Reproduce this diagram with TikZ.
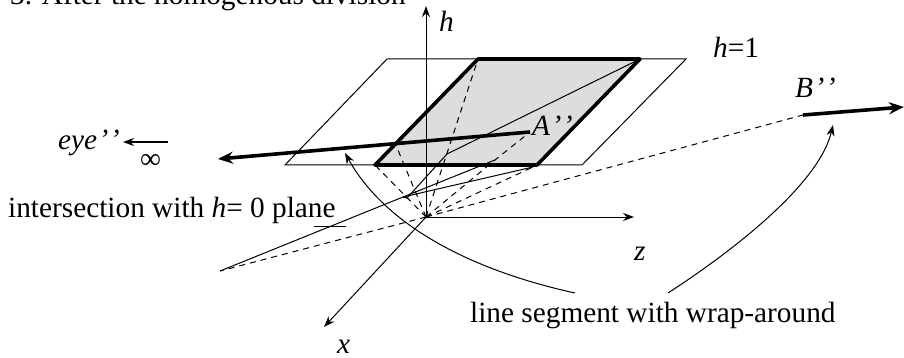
\documentclass[tikz,border=0pt]{standalone}
\usepackage{fontspec}
\setmainfont{Liberation Serif}
\usetikzlibrary{arrows.meta}
\newcommand{\dprime}{\textit{\kern1.5pt’\kern1.5pt’}}
\begin{document}
\begin{tikzpicture}[
    x=1pt, y=-1pt,
    >={Stealth[length=11pt,width=8pt]},
    every node/.style={font=\fontsize{29.3}{34}\selectfont, inner sep=0pt},
    axis/.style={->, line width=1pt},
    thin_line/.style={line width=1pt},
    thick_line/.style={line width=3.6pt},
    dash_line/.style={line width=1pt, dash pattern=on 6pt off 5pt},
    thick_arrow/.style={thick_line, -{Stealth[length=15pt,width=12pt]}},
    curve_arrow/.style={->, line width=1pt},
    lbl/.style={anchor=base west},
]
\useasboundingbox (0,0) rectangle (904,358);
\coordinate (O) at (426,217);
\coordinate (p_a) at (285,165);
\coordinate (p_b) at (387,59);
\coordinate (p_c) at (686,59);
\coordinate (p_d) at (582,165);
\coordinate (q_a) at (375,165);
\coordinate (q_b) at (478,59);
\coordinate (q_c) at (640,59);
\coordinate (q_d) at (537,165);
\coordinate (A) at (530,132);
\coordinate (B) at (803,115);
\coordinate (far) at (220,271);
\coordinate (m_1) at (403,197);
\coordinate (m_2) at (407,198);
\coordinate (m_3) at (447,154);
\coordinate (m_4) at (495,160);
\coordinate (e_1) at (395,143);
\coordinate (e_2) at (533,167);
% plane and window
\fill[gray!27] (q_a) -- (q_b) -- (q_c) -- (q_d) -- cycle;
\draw[thin_line] (p_a) -- (p_b) -- (p_c) -- (p_d) -- cycle;
% axes
\draw[axis] (O) -- (426,6);
\draw[axis] (O) -- (634,217);
\draw[axis] (O) -- (324,327);
% projections
\draw[dash_line] (O) -- (q_a);
\draw[dash_line] (O) -- (e_1);
\draw[dash_line] (O) -- (q_b);
\draw[dash_line] (O) -- (m_4) -- (A);
\draw[dash_line] (O) -- (e_2);
\draw[dash_line] (O) -- (B);
\draw[dash_line] (O) -- (far);
\draw[thin_line] (far) -- (m_1) -- (m_4);
\draw[thin_line] (m_1) -- (e_2);
\draw[thin_line] (m_1) -- (m_2) -- (m_3) -- (q_c);
% clipped window and line
\draw[thick_line, line join=round] (q_a) -- (q_b) -- (q_c) -- (q_d) -- cycle;
\draw[thick_arrow] (A) -- (218,159);
\draw[thick_arrow] (B) -- (904,107);
\draw[->, line width=1.8pt] (168,142) -- (123,142);
% wrap-around
\draw[curve_arrow] (575,293) .. controls (470,270) and (385,225) .. (345,153);
\draw[curve_arrow] (668,293) .. controls (745,243) and (820,180) .. (833,125);
\draw[thin_line] (314,226) -- (346,226);
% labels
\node[lbl] (title) at (10,5) {3. After the homogenous division};
\node[lbl] (h_lbl) at (439,32) {\textit{h}};
\node[lbl] (h_one) at (713,58) {\textit{h}=1};
\node[lbl] (b_lbl) at (795,98) {\textit{B}\dprime};
\node[lbl] (a_lbl) at (532,136) {\textit{A}\dprime};
\node[lbl] (eye_lbl) at (58,150) {\textit{eye}\dprime};
\node[lbl] (inf_lbl) at (140,168) {∞};
\node[lbl] (int_lbl) at (8,217) {intersection with \textit{h}= 0 plane};
\node[lbl] (z_lbl) at (634,260) {\textit{z}};
\node[lbl] (x_lbl) at (337,353) {\textit{x}};
\node[lbl] (seg_lbl) at (470,322) {line segment with wrap-around};
\end{tikzpicture}
\end{document}
